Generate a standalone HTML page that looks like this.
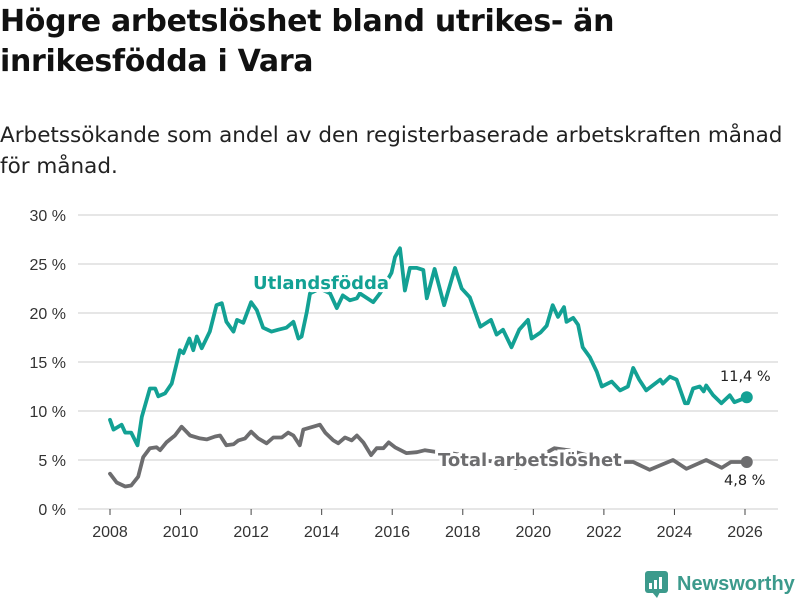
<!DOCTYPE html>
<html><head><meta charset="utf-8"><style>
html,body{margin:0;padding:0;background:#fff;width:800px;height:600px;overflow:hidden;font-family:"Liberation Sans",sans-serif;}
h1{position:absolute;left:0;top:2px;margin:0;font-family:"DejaVu Sans",sans-serif;font-size:30px;line-height:40px;font-weight:bold;color:#111;letter-spacing:-0.3px;}
.sub{position:absolute;left:0;top:120px;font-family:"DejaVu Sans",sans-serif;font-size:21.5px;line-height:31px;color:#222;}
svg{position:absolute;left:0;top:0;}
</style></head><body>
<h1>Högre arbetslöshet bland utrikes- än<br>inrikesfödda i Vara</h1>
<div class="sub">Arbetssökande som andel av den registerbaserade arbetskraften månad<br>för månad.</div>
<svg id="chart" width="800" height="600"></svg>
<script>
const yTicks=[0,5,10,15,20,25,30];
const xTicks=[2008,2010,2012,2014,2016,2018,2020,2022,2024,2026];
const utlDates=[2008.0,2008.1,2008.33,2008.43,2008.6,2008.78,2008.9,2009.13,2009.28,2009.37,2009.56,2009.75,2009.98,2010.08,2010.25,2010.36,2010.46,2010.6,2010.83,2011.02,2011.17,2011.3,2011.5,2011.6,2011.78,2012.0,2012.16,2012.34,2012.58,2012.77,2013.0,2013.2,2013.34,2013.43,2013.58,2013.67,2013.95,2014.24,2014.43,2014.6,2014.8,2015.0,2015.08,2015.46,2015.65,2015.98,2016.08,2016.22,2016.36,2016.5,2016.7,2016.88,2016.98,2017.2,2017.47,2017.78,2017.97,2018.2,2018.5,2018.8,2018.96,2019.14,2019.38,2019.6,2019.85,2019.95,2020.2,2020.38,2020.55,2020.7,2020.87,2020.94,2021.13,2021.27,2021.4,2021.6,2021.8,2021.94,2022.22,2022.46,2022.68,2022.83,2023.0,2023.2,2023.6,2023.67,2023.87,2024.06,2024.3,2024.38,2024.53,2024.72,2024.83,2024.9,2025.1,2025.33,2025.57,2025.7,2026.05];
const utlValues=[9.1,8.1,8.6,7.8,7.8,6.5,9.4,12.3,12.3,11.5,11.8,12.8,16.2,15.9,17.4,16.2,17.6,16.4,18.1,20.8,21.0,19.1,18.1,19.3,19.0,21.1,20.3,18.5,18.1,18.3,18.5,19.1,17.4,17.6,20.1,22.0,22.5,22.0,20.5,21.8,21.3,21.5,22.0,21.1,22.0,24.1,25.7,26.6,22.3,24.6,24.6,24.4,21.5,24.5,20.8,24.6,22.5,21.6,18.6,19.3,17.8,18.3,16.5,18.3,19.3,17.4,18.0,18.7,20.8,19.6,20.6,19.1,19.5,18.8,16.5,15.5,14.0,12.5,13.0,12.1,12.5,14.4,13.2,12.1,13.2,12.8,13.5,13.2,10.8,10.8,12.3,12.5,12.0,12.6,11.6,10.8,11.6,10.9,11.4];
const totDates=[2008.0,2008.19,2008.43,2008.6,2008.8,2008.94,2009.13,2009.32,2009.42,2009.6,2009.84,2010.03,2010.27,2010.55,2010.74,2010.98,2011.12,2011.3,2011.5,2011.64,2011.83,2012.0,2012.2,2012.44,2012.63,2012.87,2013.05,2013.2,2013.38,2013.48,2013.76,2013.95,2014.1,2014.33,2014.47,2014.66,2014.85,2015.0,2015.18,2015.4,2015.56,2015.75,2015.9,2016.08,2016.4,2016.7,2016.93,2017.3,2017.5,2018.0,2018.5,2019.0,2019.5,2020.0,2020.6,2021.0,2021.5,2022.0,2022.5,2022.83,2023.3,2023.96,2024.34,2024.9,2025.34,2025.6,2026.05];
const totValues=[3.6,2.7,2.3,2.4,3.3,5.3,6.2,6.3,6.0,6.8,7.5,8.4,7.5,7.2,7.1,7.4,7.5,6.5,6.6,7.0,7.2,7.9,7.2,6.7,7.3,7.3,7.8,7.5,6.5,8.1,8.4,8.6,7.8,7.0,6.7,7.3,7.0,7.5,6.8,5.5,6.2,6.2,6.8,6.3,5.7,5.8,6.0,5.8,5.8,5.5,5.0,4.8,4.2,5.0,6.2,6.0,5.5,5.0,4.8,4.8,4.0,5.0,4.1,5.0,4.2,4.8,4.8];
const NS="http://www.w3.org/2000/svg";
const svg=document.getElementById('chart');
const X0=78,X1=778;
const xs=y=>110+(y-2008)*(635/18);
const ys=v=>509-v*9.8;
function mk(t,a,p){const e=document.createElementNS(NS,t);for(const k in a)e.setAttribute(k,a[k]);(p||svg).appendChild(e);return e;}
yTicks.forEach(t=>{
  const g=mk('line',{x1:X0,x2:X1,y1:ys(t),y2:ys(t),stroke:'#dedede','stroke-width':1.5});
  
  
  const l=mk('text',{x:66,y:ys(t)+6,'text-anchor':'end','font-size':16,fill:'#333'});
  l.textContent=t+' %';
  
  
});
xTicks.forEach(t=>{
  const k=mk('line',{x1:xs(t),x2:xs(t),y1:509,y2:515,stroke:'#444','stroke-width':1});
  
  
  const l=mk('text',{x:xs(t),y:537,'text-anchor':'middle','font-size':16,fill:'#333'});
  l.textContent=t;
  
  
});
function line(d,v,c,name){
  const p=mk('path',{d:d.map((x,i)=>(i?'L':'M')+xs(x).toFixed(1)+','+ys(v[i]).toFixed(1)).join(''),fill:'none',stroke:c,'stroke-width':3.8,'stroke-linejoin':'round','stroke-linecap':'round'});
  
  
  const n=d.length-1;
  const dot=mk('circle',{cx:xs(d[n]),cy:ys(v[n]),r:6,fill:c});
  
  
}
line(totDates,totValues,'#6d6d6f','total-line');
line(utlDates,utlValues,'#13a194','utlandsfodda-line');
function lab(x,y,txt,c,size,w,name,halo){
  const t=mk('text',{x:x,y:y,fill:c,'font-size':size,'font-weight':w,'font-family':'"DejaVu Sans",sans-serif'});
  if(halo){t.setAttribute('stroke','#fff');t.setAttribute('stroke-width',6);t.setAttribute('paint-order','stroke');}
  t.textContent=txt;
  
  
}
lab(253,289,'Utlandsfödda','#13a194',18,'bold','utlandsfodda-label',true);
lab(438,466,'Total arbetslöshet','#6d6d6f',18,'bold','total-label',true);
lab(720,381,'11,4 %','#222',14.5,'normal','utlandsfodda-end-value',false);
lab(724,485,'4,8 %','#222',14.5,'normal','total-end-value',false);
const lg=mk('g',{});


mk('rect',{x:645,y:571,width:23,height:22,rx:3,fill:'#3c9a8c'},lg);
mk('path',{d:'M652,592 L657,598 L660,592 Z',fill:'#3c9a8c'},lg);
[[649,583,3,6],[654,580,3,9],[659,577,3,12]].forEach(b=>mk('rect',{x:b[0],y:b[1],width:b[2],height:b[3],fill:'#fff'},lg));
const lt=mk('text',{x:677,y:590,fill:'#3c9a8c','font-size':20,'font-weight':'bold'},lg);
lt.textContent='Newsworthy';
</script>
</body></html>
